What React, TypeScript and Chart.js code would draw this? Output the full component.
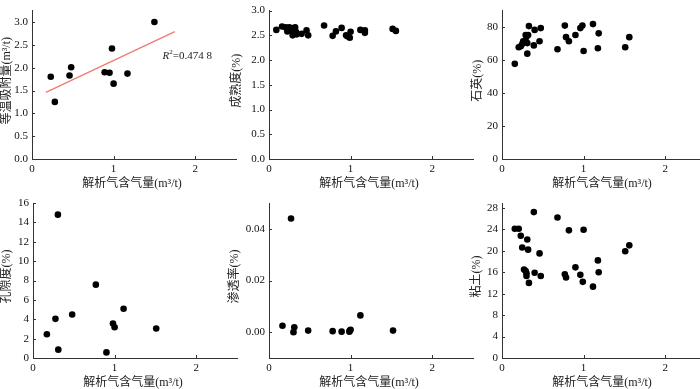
import React, { useEffect, useRef } from "react";
import { Chart, registerables } from "chart.js";
Chart.register(...registerables);

// ---------- data ----------
const X_TICKS = [0, 1, 2];
const X_TITLE = "解析气含气量(m³/t)";

const adsorptionX = [0.23, 0.28, 0.46, 0.48, 0.89, 0.95, 0.98, 1.0, 1.17, 1.5];
const adsorptionY = [1.8, 1.25, 1.83, 2.01, 1.9, 1.89, 2.42, 1.65, 1.87, 3.0];
const trendX = [0.17, 1.75];
const trendY = [1.46, 2.79];
const adsorptionTicks = [0, 0.5, 1.0, 1.5, 2.0, 2.5, 3.0];

const maturityX = [0.09, 0.16, 0.205, 0.225, 0.25, 0.225, 0.258, 0.28, 0.3, 0.32, 0.29, 0.31, 0.33, 0.34, 0.4, 0.46, 0.48, 0.675, 0.78, 0.82, 0.89, 0.945, 0.96, 0.99, 1.0, 1.12, 1.175, 1.175, 1.515, 1.555];
const maturityY = [2.61, 2.68, 2.66, 2.63, 2.66, 2.58, 2.6, 2.63, 2.64, 2.66, 2.5, 2.53, 2.57, 2.52, 2.53, 2.6, 2.5, 2.7, 2.49, 2.58, 2.65, 2.5, 2.48, 2.45, 2.57, 2.61, 2.6, 2.55, 2.63, 2.59];
const maturityTicks = [0, 0.5, 1.0, 1.5, 2.0, 2.5, 3.0];

const quartzX = [0.157, 0.205, 0.23, 0.248, 0.26, 0.29, 0.29, 0.3, 0.32, 0.31, 0.31, 0.33, 0.39, 0.4, 0.46, 0.475, 0.68, 0.77, 0.785, 0.82, 0.9, 0.96, 0.985, 1.0, 1.115, 1.175, 1.185, 1.51, 1.56];
const quartzY = [57.7, 67.8, 68.4, 69.7, 71.4, 71.4, 75.2, 74.2, 75.2, 70.3, 63.9, 80.6, 68.9, 78.3, 71.4, 79.4, 66.6, 80.9, 73.9, 71.4, 75.2, 79.4, 80.9, 65.5, 81.8, 67.2, 76.2, 67.8, 73.9];
const quartzTicks = [0, 20, 40, 60, 80];

const porosityX = [0.17, 0.275, 0.305, 0.31, 0.48, 0.77, 0.9, 0.98, 1.0, 1.11, 1.51];
const porosityY = [2.45, 4.04, 14.8, 0.86, 4.49, 7.57, 0.58, 3.56, 3.18, 5.08, 3.04];
const porosityTicks = [0, 2, 4, 6, 8, 10, 12, 14, 16];

const permeabilityX = [0.165, 0.27, 0.3, 0.31, 0.48, 0.78, 0.89, 0.985, 0.99, 1.0, 1.12, 1.52];
const permeabilityY = [0.0025, 0.044, 0.0, 0.0019, 0.0006, 0.0004, 0.0002, 0.0002, 0.0006, 0.0009, 0.0065, 0.0006];
const permeabilityTicks = [0, 0.02, 0.04];

const clayX = [0.157, 0.205, 0.23, 0.248, 0.27, 0.29, 0.3, 0.3, 0.31, 0.32, 0.33, 0.39, 0.4, 0.46, 0.475, 0.68, 0.77, 0.785, 0.82, 0.9, 0.96, 0.99, 1.0, 1.115, 1.175, 1.185, 1.51, 1.56];
const clayY = [24.1, 24.1, 22.8, 20.6, 16.5, 16.2, 15.8, 15.3, 22.1, 20.2, 14.0, 27.2, 15.9, 19.5, 15.3, 26.2, 15.6, 15.0, 23.8, 16.9, 15.5, 14.2, 23.9, 13.3, 18.2, 16.0, 19.9, 21.0];
const clayTicks = [0, 4, 8, 12, 16, 20, 24, 28];

const R2_TEXT = "=0.474 8";

// ---------- layout / style ----------
const FONT_NUM = '"Liberation Serif", "Times New Roman", serif';
const FONT_TXT = '"Liberation Serif", "Noto Sans CJK SC", serif';
const AXIS_COLOR = "#333";
const Y_AXIS_W = 45;
const PLOT_W = 204;
const X_AXIS_H = 31;
const X_MAX = 2.5;

type Panel = {
  xs: number[];
  ys: number[];
  yMin: number;
  yMax: number;
  yTicks: number[];
  decimals: number;
  yTitle: string;
  axisX: number;
  row: 0 | 1;
  titleOff: number;
  trend?: boolean;
};

const ROWS = [
  { top: 0, height: 190, padTop: 4 },
  { top: 190, height: 199, padTop: 13 },
];

const PANELS: Panel[] = [
  { xs: adsorptionX, ys: adsorptionY, yMin: 0, yMax: 3.25, yTicks: adsorptionTicks, decimals: 1, yTitle: "等温吸附量(m³/t)", axisX: 32, row: 0, titleOff: 25, trend: true },
  { xs: maturityX, ys: maturityY, yMin: 0, yMax: 3.0, yTicks: maturityTicks, decimals: 1, yTitle: "成熟度(%)", axisX: 269, row: 0, titleOff: 32 },
  { xs: quartzX, ys: quartzY, yMin: 0, yMax: 90, yTicks: quartzTicks, decimals: 0, yTitle: "石英(%)", axisX: 502, row: 0, titleOff: 24 },
  { xs: porosityX, ys: porosityY, yMin: 0, yMax: 16, yTicks: porosityTicks, decimals: 0, yTitle: "孔隙度(%)", axisX: 33, row: 1, titleOff: 26 },
  { xs: permeabilityX, ys: permeabilityY, yMin: -0.01, yMax: 0.05, yTicks: permeabilityTicks, decimals: 2, yTitle: "渗透率(%)", axisX: 269, row: 1, titleOff: 34 },
  { xs: clayX, ys: clayY, yMin: 0, yMax: 28.9, yTicks: clayTicks, decimals: 0, yTitle: "粘土(%)", axisX: 502, row: 1, titleOff: 25 },
];

function PanelChart({ p }: { p: Panel }) {
  const ref = useRef<HTMLCanvasElement | null>(null);
  const row = ROWS[p.row];
  const width = Y_AXIS_W + PLOT_W + 8;

  useEffect(() => {
    if (!ref.current) return;
    const datasets: any[] = [
      {
        type: "scatter",
        data: p.xs.map((x, i) => ({ x, y: p.ys[i] })),
        backgroundColor: "#000",
        borderWidth: 0,
        pointRadius: 3.3,
        clip: false,
      },
    ];
    if (p.trend) {
      datasets.push({
        type: "line",
        data: trendX.map((x, i) => ({ x, y: trendY[i] })),
        borderColor: "#ee7a70",
        borderWidth: 1.2,
        pointRadius: 0,
        fill: false,
        clip: false,
      });
    }

    const decor = {
      id: "decor",
      afterDraw(chart: any) {
        const { ctx, chartArea: a, scales } = chart;
        ctx.save();
        ctx.strokeStyle = AXIS_COLOR;
        ctx.lineWidth = 1;
        scales.x.ticks.forEach((t: any) => {
          const px = Math.round(scales.x.getPixelForValue(t.value)) + 0.5;
          ctx.beginPath();
          ctx.moveTo(px, a.bottom);
          ctx.lineTo(px, a.bottom - 3);
          ctx.stroke();
        });
        scales.y.ticks.forEach((t: any) => {
          const py = Math.round(scales.y.getPixelForValue(t.value)) + 0.5;
          ctx.beginPath();
          ctx.moveTo(a.left, py);
          ctx.lineTo(a.left + 3, py);
          ctx.stroke();
        });
        ctx.fillStyle = "#222";
        ctx.font = `12px ${FONT_TXT}`;
        ctx.textAlign = "center";
        ctx.textBaseline = "middle";
        ctx.fillText(X_TITLE, (a.left + a.right) / 2 - 2, a.bottom + 25);
        ctx.save();
        ctx.translate(a.left - p.titleOff, (a.top + a.bottom) / 2 - 4);
        ctx.rotate(-Math.PI / 2);
        ctx.fillText(p.yTitle, 0, 0);
        ctx.restore();
        if (p.trend) {
          const x0 = scales.x.getPixelForValue(1.6);
          const y0 = scales.y.getPixelForValue(2.18);
          ctx.textAlign = "left";
          ctx.textBaseline = "alphabetic";
          ctx.font = `italic 11px ${FONT_NUM}`;
          ctx.fillText("R", x0, y0);
          let w = ctx.measureText("R").width;
          ctx.font = `7px ${FONT_NUM}`;
          ctx.fillText("2", x0 + w, y0 - 5);
          w += ctx.measureText("2").width;
          ctx.font = `11px ${FONT_NUM}`;
          ctx.fillText(R2_TEXT, x0 + w, y0);
        }
        ctx.restore();
      },
    };

    const chart = new Chart(ref.current, {
      type: "scatter",
      data: { datasets },
      options: {
        animation: false,
        responsive: false,
        devicePixelRatio: 1,
        layout: { padding: { top: row.padTop, right: 8, left: 0, bottom: 0 } },
        plugins: { legend: { display: false }, tooltip: { enabled: false } },
        scales: {
          x: {
            type: "linear",
            min: 0,
            max: X_MAX,
            afterBuildTicks: (s: any) => {
              s.ticks = X_TICKS.map((v) => ({ value: v }));
            },
            afterFit: (s: any) => {
              s.height = X_AXIS_H;
            },
            grid: { display: false, drawTicks: false },
            border: { display: true, color: AXIS_COLOR, width: 1 },
            ticks: {
              color: "#111",
              font: { family: FONT_NUM, size: 11 },
              padding: 4,
              maxRotation: 0,
              callback: (v: any) => String(v),
            },
          },
          y: {
            type: "linear",
            min: p.yMin,
            max: p.yMax,
            afterBuildTicks: (s: any) => {
              s.ticks = p.yTicks.map((v) => ({ value: v }));
            },
            afterFit: (s: any) => {
              s.width = Y_AXIS_W;
            },
            grid: { display: false, drawTicks: false },
            border: { display: true, color: AXIS_COLOR, width: 1 },
            ticks: {
              color: "#111",
              font: { family: FONT_NUM, size: 11 },
              padding: 4,
              callback: (v: any) => Number(v).toFixed(p.decimals),
            },
          },
        },
      },
      plugins: [decor],
    } as any);
    return () => chart.destroy();
  }, []);

  return (
    <canvas
      ref={ref}
      width={width}
      height={row.height}
      style={{
        position: "absolute",
        left: p.axisX - Y_AXIS_W,
        top: row.top,
        width,
        height: row.height,
        display: "block",
      }}
    />
  );
}

export default function App() {
  return (
    <div
      style={{
        position: "fixed",
        left: 0,
        top: 0,
        width: 700,
        height: 389,
        overflow: "hidden",
        background: "#fff",
      }}
    >
      {PANELS.map((p, i) => (
        <PanelChart key={i} p={p} />
      ))}
    </div>
  );
}
